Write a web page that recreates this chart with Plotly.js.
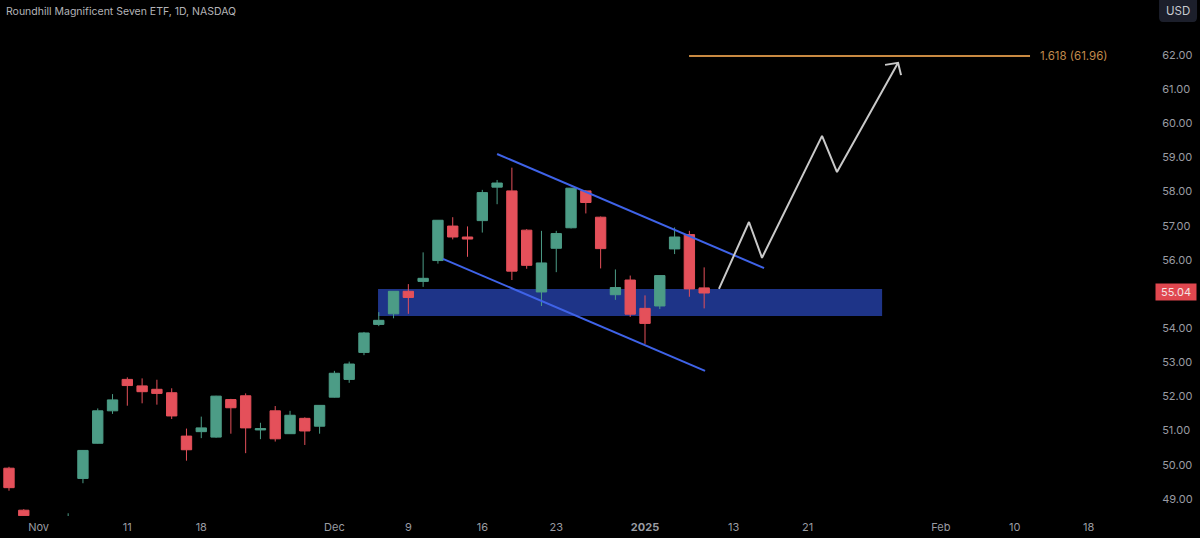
<!DOCTYPE html>
<html><head><meta charset="utf-8">
<script src="https://cdn.plot.ly/plotly-3.0.1.min.js"></script>
<style>html,body{margin:0;padding:0;background:#000;overflow:hidden}#c{width:1200px;height:538px}</style>
</head><body><div id="c"></div>
<script>
const barIndex = [0,1,4,5,6,7,8,9,10,11,12,13,14,15,16,17,18,19,20,21,22,23,24,25,26,27,28,29,30,31,32,33,34,35,36,37,38,39,40,41,42,43,44,45,46,47];
const opens  = [49.90,48.67,48.30,49.60,50.63,51.58,52.50,52.31,52.21,52.11,50.84,50.97,50.81,51.91,52.02,51.02,51.58,50.91,51.36,51.13,51.98,52.50,53.29,54.11,54.42,55.08,55.37,55.98,56.99,56.67,57.15,58.13,58.02,56.87,55.06,56.34,56.94,58.02,57.25,54.98,55.41,54.58,54.65,56.32,56.74,55.18];
const highs  = [49.94,48.70,48.58,50.43,51.65,52.07,52.56,52.53,52.49,52.24,51.06,51.41,52.02,51.93,52.09,51.23,51.72,51.58,51.39,51.74,52.75,53.02,53.89,54.47,55.08,55.29,56.22,57.16,57.25,56.98,58.05,58.34,58.70,56.90,56.85,56.85,58.10,58.04,57.27,55.72,55.54,54.96,55.54,56.95,56.85,55.78];
const lows   = [49.24,48.50,48.20,49.46,50.62,51.49,51.73,51.80,51.76,51.34,50.12,50.78,50.79,50.91,50.34,50.75,50.68,50.91,50.58,50.91,51.97,52.40,53.21,54.06,54.29,54.42,55.21,55.89,56.60,56.09,56.80,57.63,55.41,55.74,54.65,55.64,56.92,57.36,55.75,54.83,54.33,53.54,54.56,56.17,54.92,54.58];
const closes = [49.33,48.51,48.35,50.42,51.58,51.90,52.32,52.14,52.09,51.43,50.44,51.08,52.01,51.67,51.08,51.06,50.76,51.45,50.99,51.74,52.68,52.95,53.86,54.23,55.08,54.90,55.46,57.16,56.67,56.61,57.97,58.25,55.67,55.84,55.91,56.77,58.10,57.68,56.33,55.19,54.41,54.14,55.54,56.67,55.15,55.03];

const upperChannelX = [33.0,51.05],  upperChannelY = [59.10,55.76];
const lowerChannelX = [29.34,47.06], lowerChannelY = [56.03,52.75];
const projectionX = [48.0,50.03,50.91,54.97,55.98,60.11];
const projectionY = [55.15,57.11,56.06,59.63,58.57,61.77];
const arrowHeadX = [59.23,60.11,60.31];
const arrowHeadY = [61.71,61.77,61.41];
const fibX = [45.98,69.03], fibY = [61.97,61.97];
const zoneX = [24.95,59.03], zoneY = [54.36,55.15];

const priceTicks = [49,50,51,52,53,54,56,57,58,59,60,61,62];
const priceLabels = ['49.00','50.00','51.00','52.00','53.00','54.00','56.00','57.00','58.00','59.00','60.00','61.00','62.00'];
const dateTicks = [2,8,13,22,27,32,37,43,49,54,63,68,73];
const dateLabels = ['Nov','11','18','Dec','9','16','23','<b>2025</b>','13','21','Feb','10','18'];

const UI = 'Inter, "Liberation Sans", sans-serif';
const line = (x,y,color,width)=>({type:'scatter',mode:'lines',x,y,line:{color,width},hoverinfo:'skip',showlegend:false,cliponaxis:false});

const traces = [
  {type:'candlestick',x:barIndex,open:opens,high:highs,low:lows,close:closes,whiskerwidth:0,showlegend:false,hoverinfo:'skip',
   increasing:{line:{color:'#4c9c86',width:1},fillcolor:'#4c9c86'},
   decreasing:{line:{color:'#e4505a',width:1},fillcolor:'#e4505a'}},
  line(upperChannelX,upperChannelY,'#3f63e8',2),
  line(lowerChannelX,lowerChannelY,'#3f63e8',2),
  line(projectionX,projectionY,'#c9c9c9',2),
  line(arrowHeadX,arrowHeadY,'#c9c9c9',2),
  line(fibX,fibY,'#c98a42',2)
];

const layout = {
  width:1200,height:538,paper_bgcolor:'#000',plot_bgcolor:'#000',showlegend:false,
  margin:{l:0,r:45,t:0,b:22},
  boxgap:0,
  font:{family:UI,color:'#9a9ca3',size:11},
  xaxis:{range:[-0.608,77.48],tickmode:'array',tickvals:dateTicks,ticktext:dateLabels,showgrid:false,zeroline:false,showline:false,
         ticks:'outside',ticklen:1,tickcolor:'rgba(0,0,0,0)',rangeslider:{visible:false},tickfont:{family:UI,size:11,color:'#9a9ca3'},fixedrange:true},
  yaxis:{range:[48.50,63.61],side:'right',tickmode:'array',tickvals:priceTicks,ticktext:priceLabels,showgrid:false,zeroline:false,showline:false,
         ticks:'outside',ticklen:4,tickcolor:'rgba(0,0,0,0)',tickfont:{family:UI,size:11,color:'#9a9ca3'},fixedrange:true},
  shapes:[
    {type:'rect',layer:'below',xref:'x',yref:'y',x0:zoneX[0],x1:zoneX[1],y0:zoneY[0],y1:zoneY[1],fillcolor:'#1e3488',line:{width:0}},
    {type:'path',layer:'above',xref:'paper',yref:'paper',
     path:'M 1.0035 1.0 L 1.0364 1.0 L 1.0364 0.9670 Q 1.0364 0.9574 1.0330 0.9574 L 1.0069 0.9574 Q 1.0035 0.9574 1.0035 0.9670 Z',
     fillcolor:'#1c1f2b',line:{width:0}}
  ],
  annotations:[
    {xref:'paper',yref:'paper',x:0.0035,y:0.9945,xanchor:'left',yanchor:'top',showarrow:false,text:'Roundhill Magnificent Seven ETF, 1D, NASDAQ',font:{family:UI,size:10.5,color:'#b4b4b8'}},
    {xref:'x',yref:'y',x:69.57,y:61.97,xanchor:'left',yanchor:'middle',showarrow:false,text:'1.618 (61.96)',font:{family:UI,size:11.5,color:'#c08a4c'}},
    {xref:'paper',yref:'paper',x:1.0199,y:0.979,xanchor:'center',yanchor:'middle',showarrow:false,text:'USD',font:{family:UI,size:11.5,color:'#c8cad0'}},
    {xref:'paper',yref:'y',x:1.0,y:55.05,xanchor:'left',yanchor:'middle',showarrow:false,text:'55.04',width:38,height:14,align:'center',bgcolor:'#e0474f',borderpad:1,font:{family:UI,size:11,color:'#f4e4e4'}}
  ]
};
Plotly.newPlot('c',traces,layout,{displayModeBar:false,staticPlot:true});
</script></body></html>
